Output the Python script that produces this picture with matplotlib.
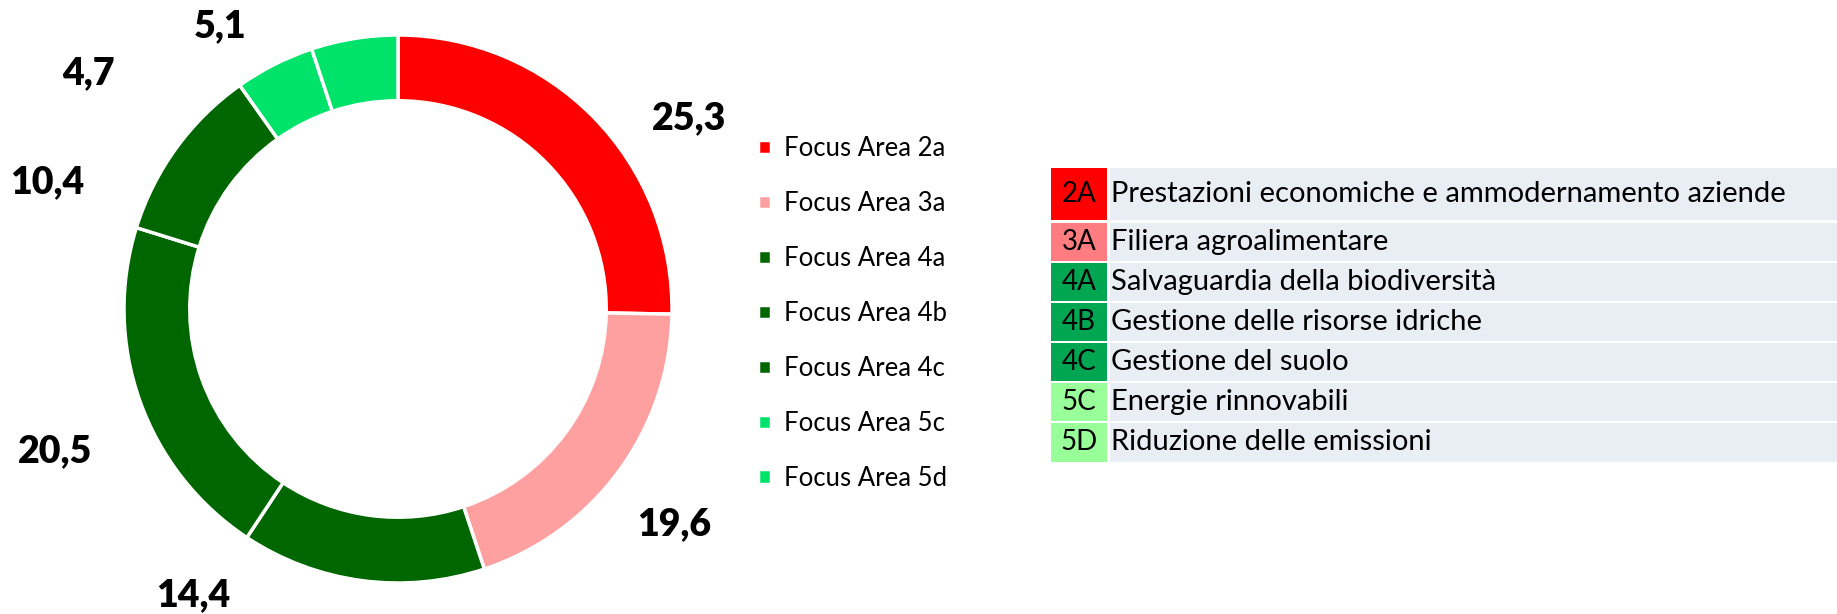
import matplotlib.pyplot as plt
from matplotlib.patches import Rectangle

plt.rcParams['font.family'] = ['Lato', 'DejaVu Sans']

# Quota della spesa per Focus Area (%)
areas = ['Focus Area 2a', 'Focus Area 3a', 'Focus Area 4a', 'Focus Area 4b',
         'Focus Area 4c', 'Focus Area 5c', 'Focus Area 5d']
values = [25.3, 19.6, 14.4, 20.5, 10.4, 4.7, 5.1]
ring_colors = ['#FF0000', '#FFA0A0', '#006600', '#006600', '#006600', '#00E36A', '#00E36B']

# Legenda delle Focus Area
codes = ['2A', '3A', '4A', '4B', '4C', '5C', '5D']
descriptions = ['Prestazioni economiche e ammodernamento aziende',
                'Filiera agroalimentare',
                'Salvaguardia della biodiversità',
                'Gestione delle risorse idriche',
                'Gestione del suolo',
                'Energie rinnovabili',
                'Riduzione delle emissioni']
code_colors = ['#FF0000', '#FF7C80', '#00A651', '#00A651', '#00A651', '#99FF99', '#99FF99']

W, H = 1837, 614
fig = plt.figure(figsize=(W / 100, H / 100), dpi=100)

# ciambella: centro e raggio in pixel
cx, cy, r = 398, 309, 274
ax = fig.add_axes([0, 0, 740 / W, 1])
wedges, _ = ax.pie(values, colors=ring_colors, startangle=90, counterclock=False,
                   radius=1, wedgeprops=dict(width=0.24, edgecolor='white', linewidth=2.5))
ax.set_aspect('auto')
ax.set_xlim(-cx / r, (740 - cx) / r)
ax.set_ylim(-(H - cy) / r, cy / r)
ax.axis('off')

# posizione delle etichette (in unità di raggio)
label_pos = [(1.062, 0.695), (1.007, -0.785), (-0.748, -1.045), (-1.252, -0.518),
             (-1.281, 0.464), (-1.128, 0.861), (-0.650, 1.033)]
for v, (lx, ly) in zip(values, label_pos):
    ax.text(lx, ly, f'{v:.1f}'.replace('.', ','), ha='center', va='center',
            fontsize=27, fontweight='heavy', color='black')

fig.legend(wedges, areas, loc='upper left', bbox_to_anchor=(748 / W, 1 - 126 / H),
           frameon=False, fontsize=18.5, handlelength=0.5, handleheight=0.5,
           handletextpad=0.5, labelspacing=1.165, borderaxespad=0)

# tabella delle Focus Area
tab = fig.add_axes([0, 0, 1, 1])
tab.set_xlim(0, W)
tab.set_ylim(H, 0)
tab.axis('off')
x0, x1, x2 = 1051, 1107, W
row_tops = [168, 223, 263, 303, 343, 383, 423]
row_h = [52, 37.5, 37.5, 37.5, 37.5, 37.5, 38.5]
for code, desc, col, top, h in zip(codes, descriptions, code_colors, row_tops, row_h):
    tab.add_patch(Rectangle((x0, top), x1 - x0, h, facecolor=col, edgecolor='none'))
    tab.add_patch(Rectangle((x1 + 3, top), x2 - x1 - 3, h, facecolor='#E9EDF4', edgecolor='none'))
    tab.text((x0 + x1) / 2, top + h / 2, code, ha='center', va='center', fontsize=20)
    tab.text(x1 + 4, top + h / 2, desc, ha='left', va='center', fontsize=21)

fig.savefig('out.png', dpi=100)
